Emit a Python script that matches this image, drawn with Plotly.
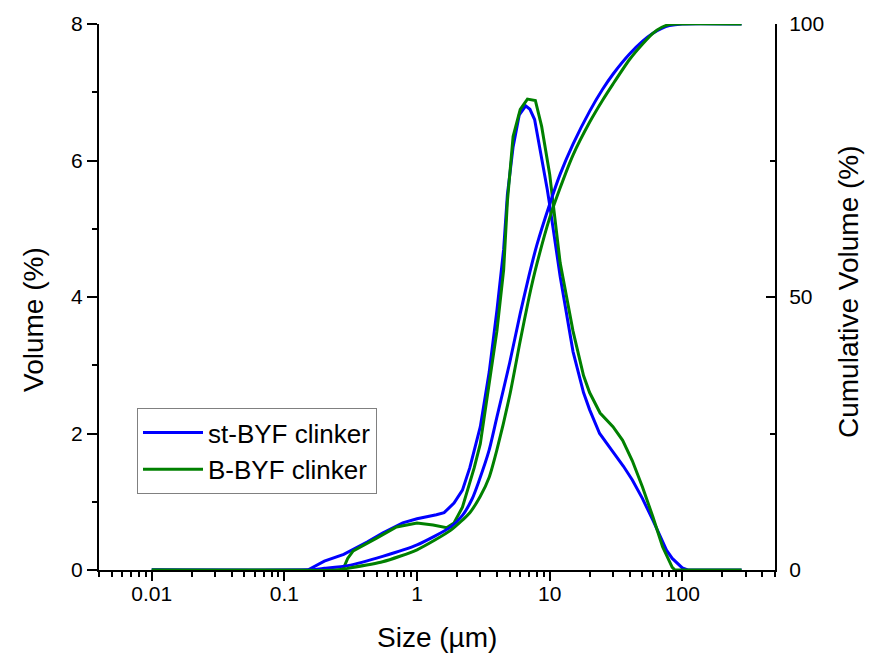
import plotly.graph_objects as go

# ---- data ----
st_vol_size = [0.01, 0.15, 0.2, 0.28, 0.42, 0.55, 0.78, 1.0, 1.4, 1.6, 1.9, 2.2, 2.5, 3.0, 3.5, 4.0, 4.5, 4.8, 5.3, 5.9, 6.6, 7.1, 7.7, 8.5, 9.6, 10, 12, 15, 18, 20, 23.8, 30, 36, 42, 50, 60, 68, 76, 84, 91, 100, 110, 280]
st_vol = [0, 0, 0.13, 0.23, 0.41, 0.54, 0.69, 0.75, 0.81, 0.84, 0.98, 1.17, 1.5, 2.1, 2.9, 3.8, 4.7, 5.5, 6.2, 6.67, 6.8, 6.75, 6.6, 6.15, 5.57, 5.35, 4.3, 3.2, 2.6, 2.35, 2.0, 1.73, 1.52, 1.32, 1.05, 0.73, 0.5, 0.29, 0.17, 0.1, 0.03, 0, 0]

b_vol_size = [0.01, 0.275, 0.3, 0.33, 0.5, 0.7, 1.0, 1.32, 1.67, 1.9, 2.2, 2.4, 2.7, 3.0, 3.5, 4.0, 4.5, 4.8, 5.3, 6.0, 6.8, 7.8, 8.7, 10, 12, 15, 18, 20, 24, 30, 35.5, 42, 50, 60, 71, 84, 88, 280]
b_vol = [0, 0, 0.17, 0.28, 0.47, 0.63, 0.69, 0.66, 0.62, 0.69, 0.92, 1.17, 1.5, 1.85, 2.7, 3.5, 4.4, 5.4, 6.35, 6.75, 6.9, 6.88, 6.5, 5.8, 4.5, 3.5, 2.85, 2.6, 2.3, 2.1, 1.9, 1.6, 1.22, 0.78, 0.34, 0.04, 0, 0]

st_cum_size = [0.01, 0.15, 0.2, 0.3, 0.55, 1.0, 1.8, 2.2, 2.6, 2.9, 3.5, 4, 5, 6, 7, 8, 10, 12, 15, 20, 25, 30, 40, 50, 60, 70, 80, 100, 280]
st_cum = [0, 0, 0.3, 0.8, 2.5, 4.6, 7.9, 10, 13, 16, 22, 28, 38, 47, 54, 59.5, 67, 72.5, 78, 84, 88, 90.8, 94.5, 96.8, 98.3, 99.2, 99.7, 100, 100]

b_cum_size = [0.01, 0.25, 0.3, 0.55, 1.0, 1.8, 2.5, 3, 3.5, 4, 5, 6, 7, 8, 10, 12, 15, 20, 25, 30, 40, 50, 60, 70, 80, 90, 280]
b_cum = [0, 0, 0.3, 1.5, 3.7, 7.3, 10.5, 13.5, 17, 22, 32, 42, 50, 56, 64.5, 70, 76, 82, 86, 89, 93.5, 96.3, 98.3, 99.4, 99.9, 100, 100]

x_ticks = [0.01, 0.1, 1, 10, 100]
x_tick_text = ["0.01", "0.1", "1", "10", "100"]

BLUE = "#0000ff"
GREEN = "#008000"
FONT = "Arial, Liberation Sans, sans-serif"

fig = go.Figure()
fig.add_trace(go.Scatter(x=st_vol_size, y=st_vol, mode="lines", name="st-BYF clinker",
                         line=dict(color=BLUE, width=3)))
fig.add_trace(go.Scatter(x=b_vol_size, y=b_vol, mode="lines", name="B-BYF clinker",
                         line=dict(color=GREEN, width=3)))
fig.add_trace(go.Scatter(x=st_cum_size, y=st_cum, mode="lines", name="st-BYF cum", showlegend=False,
                         line=dict(color=BLUE, width=3, shape="spline", smoothing=0.6), yaxis="y2"))
fig.add_trace(go.Scatter(x=b_cum_size, y=b_cum, mode="lines", name="B-BYF cum", showlegend=False,
                         line=dict(color=GREEN, width=3, shape="spline", smoothing=0.6), yaxis="y2"))

minor_x = [m * 10.0 ** e for e in range(-3, 3) for m in range(2, 10)]
minor_x = [v for v in minor_x if 0.004 <= v <= 500]

# plot area in pixels: x 99..775, y 24..570
L, R, T, B = 99, 775, 24, 570
W, H = 869, 655

fig.update_layout(
    width=W, height=H,
    margin=dict(l=L, r=W - R, t=T, b=H - B, autoexpand=False),
    paper_bgcolor="white", plot_bgcolor="white",
    font=dict(family=FONT, color="black"),
    xaxis=dict(type="log", range=[-2.398, 2.699], showgrid=False, zeroline=False, automargin=False,
               showline=True, linecolor="black", linewidth=2,
               ticks="outside", ticklen=9, tickwidth=2, tickcolor="black",
               tickmode="array", tickvals=x_ticks, ticktext=x_tick_text,
               tickfont=dict(size=21, family=FONT), ticklabelstandoff=-5,
               minor=dict(tickmode="array", tickvals=minor_x, ticks="outside", ticklen=5,
                          tickwidth=2, tickcolor="black", showgrid=False)),
    yaxis=dict(range=[0, 8], showgrid=False, zeroline=False, automargin=False,
               showline=True, linecolor="black", linewidth=2,
               ticks="outside", ticklen=10, tickwidth=2, tickcolor="black",
               tickvals=[0, 2, 4, 6, 8], tickfont=dict(size=21, family=FONT),
               minor=dict(tickmode="array", tickvals=[1, 3, 5, 7], ticks="outside", ticklen=5,
                          tickwidth=2, tickcolor="black", showgrid=False)),
    yaxis2=dict(range=[0, 100], overlaying="y", side="right", showgrid=False, zeroline=False,
                automargin=False,
                showline=True, linecolor="black", linewidth=2,
                ticks="inside", ticklen=9, tickwidth=2, tickcolor="black",
                tickvals=[0, 50, 100], tickfont=dict(size=21, family=FONT),
                ticklabelstandoff=8,
                minor=dict(tickmode="array", tickvals=[25, 75], ticks="inside", ticklen=5,
                           tickwidth=2, tickcolor="black", showgrid=False)),
    legend=dict(x=(137 - L) / (R - L), y=(B - 408) / (B - T), xanchor="left", yanchor="top",
                bordercolor="#808080", borderwidth=1, bgcolor="white",
                font=dict(size=26, family=FONT), itemwidth=60, tracegroupgap=0),
    showlegend=True,
)

title_font = dict(size=28, family=FONT, color="black")
fig.add_annotation(text="Size (µm)", xref="paper", yref="paper",
                   x=(437 - L) / (R - L), y=-(637 - B) / (B - T),
                   xanchor="center", yanchor="middle", showarrow=False, font=title_font)
fig.add_annotation(text="Volume (%)", xref="paper", yref="paper",
                   x=-(L - 33) / (R - L), y=(B - 320) / (B - T), textangle=-90,
                   xanchor="center", yanchor="middle", showarrow=False, font=title_font)
fig.add_annotation(text="Cumulative Volume (%)", xref="paper", yref="paper",
                   x=1 + (848 - R) / (R - L), y=(B - 292) / (B - T), textangle=-90,
                   xanchor="center", yanchor="middle", showarrow=False, font=title_font)

fig.write_html("out.html", config={"displayModeBar": False},
               post_script="document.body.style.margin='0px';")
